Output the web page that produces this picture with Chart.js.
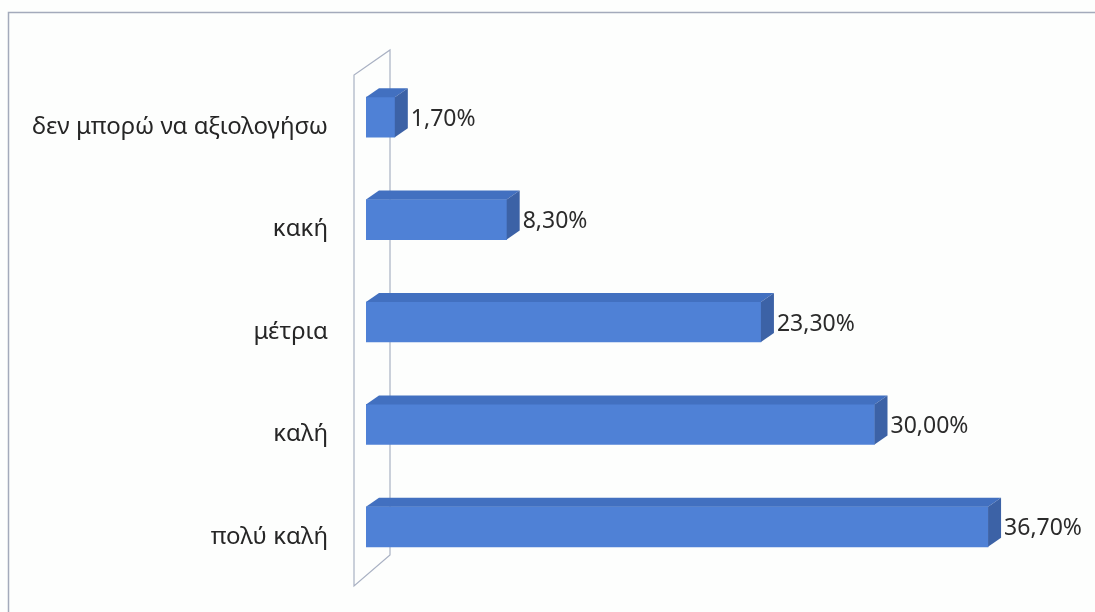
<!DOCTYPE html>
<html>
<head>
<meta charset="utf-8">
<script src="https://cdn.jsdelivr.net/npm/chart.js@4.4.1/dist/chart.umd.min.js"></script>
<style>
  html, body { margin: 0; padding: 0; background: #fdfefd; }
  #wrap { width: 1095px; height: 612px; position: relative; }
</style>
</head>
<body>
<div id="wrap"><canvas id="chart"></canvas></div>
<script>
// data
const categories = ['δεν μπορώ να αξιολογήσω', 'κακή', 'μέτρια', 'καλή', 'πολύ καλή'];
const percents = [1.7, 8.3, 23.3, 30.0, 36.7];
const valueLabels = ['1,70%', '8,30%', '23,30%', '30,00%', '36,70%'];

const FRONT = '#4f81d6';
const TOP = '#4270c0';
const SIDE = '#3c62a6';
const DEPTH_X = 13, DEPTH_Y = -9;

// background + outer frame
const framePlugin = {
  id: 'frame',
  beforeDraw(chart) {
    const ctx = chart.ctx;
    ctx.save();
    ctx.fillStyle = '#fdfefd';
    ctx.fillRect(0, 0, chart.width, chart.height);
    ctx.strokeStyle = '#a3aabb';
    ctx.lineWidth = 1.5;
    ctx.beginPath();
    ctx.moveTo(8.5, chart.height);
    ctx.lineTo(8.5, 12.5);
    ctx.lineTo(chart.width, 12.5);
    ctx.stroke();
    ctx.restore();
  }
};

// back wall of the 3d plot
const wallPlugin = {
  id: 'wall',
  beforeDatasetsDraw(chart) {
    const ctx = chart.ctx;
    const zero = chart.scales.x.getPixelForValue(0);
    const area = chart.chartArea;
    const lx = zero - 12, rx = zero + 24;
    ctx.save();
    ctx.strokeStyle = '#a9b1c3';
    ctx.lineWidth = 1.2;
    ctx.beginPath();
    ctx.moveTo(lx, area.bottom + 8);
    ctx.lineTo(lx, area.top + 9);
    ctx.lineTo(rx, area.top - 16);
    ctx.lineTo(rx, area.bottom - 23);
    ctx.closePath();
    ctx.stroke();
    ctx.restore();
  }
};

// top and side faces + value labels
const boxPlugin = {
  id: 'box3d',
  afterDatasetsDraw(chart) {
    const ctx = chart.ctx;
    const meta = chart.getDatasetMeta(0);
    ctx.save();
    meta.data.forEach((bar, i) => {
      const p = bar.getProps(['x', 'y', 'base', 'height'], true);
      const top = p.y - p.height / 2, bottom = p.y + p.height / 2;
      ctx.fillStyle = TOP;
      ctx.beginPath();
      ctx.moveTo(p.base, top);
      ctx.lineTo(p.x, top);
      ctx.lineTo(p.x + DEPTH_X, top + DEPTH_Y);
      ctx.lineTo(p.base + DEPTH_X, top + DEPTH_Y);
      ctx.closePath();
      ctx.fill();
      ctx.fillStyle = SIDE;
      ctx.beginPath();
      ctx.moveTo(p.x, top);
      ctx.lineTo(p.x + DEPTH_X, top + DEPTH_Y);
      ctx.lineTo(p.x + DEPTH_X, bottom + DEPTH_Y);
      ctx.lineTo(p.x, bottom);
      ctx.closePath();
      ctx.fill();

      ctx.fillStyle = '#2b2b2b';
      ctx.font = '23px "Noto Sans"';
      ctx.textBaseline = 'middle';
      ctx.textAlign = 'left';
      ctx.fillText(valueLabels[i], p.x + DEPTH_X + 3, p.y + 2);
    });
    ctx.restore();
  }
};

new Chart(document.getElementById('chart'), {
  type: 'bar',
  data: {
    labels: categories,
    datasets: [{
      data: percents,
      backgroundColor: FRONT,
      borderWidth: 0,
      barThickness: 40
    }]
  },
  options: {
    indexAxis: 'y',
    responsive: true,
    maintainAspectRatio: false,
    animation: false,
    layout: { padding: { left: 0, right: 51, top: 66, bottom: 34 } },
    plugins: { legend: { display: false }, tooltip: { enabled: false } },
    scales: {
      x: { display: false, min: 0, max: 40 },
      y: {
        afterFit(scale) {
          scale.width = 366;
          scale.paddingTop = 0;
          scale.paddingBottom = 0;
        },
        grid: { display: false },
        border: { display: false },
        ticks: {
          padding: 30,
          labelOffset: 10,
          color: '#262626',
          font: { family: '"Noto Sans"', size: 24 }
        }
      }
    }
  },
  plugins: [framePlugin, wallPlugin, boxPlugin]
});
</script>
</body>
</html>
